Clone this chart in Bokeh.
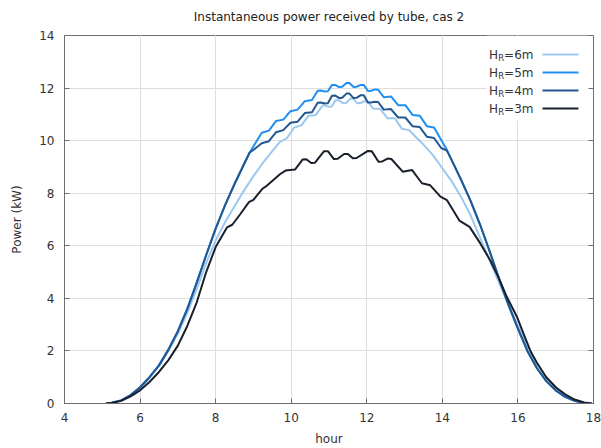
from bokeh.plotting import figure
from bokeh.models import Range1d, LinearAxis, FixedTicker
from bokeh.embed import file_html
from bokeh.resources import INLINE
from bokeh.core.properties import value

FONT = "DejaVu Sans"

title_text = "Instantaneous power received by tube, cas 2"
x_label = "hour"
y_label = "Power (kW)"
x_ticks = [4, 6, 8, 10, 12, 14, 16, 18]
y_ticks = [0, 2, 4, 6, 8, 10, 12, 14]

# HR = 6 m
hours_6m = [5.1, 5.25, 5.5, 5.75, 6.0, 6.25, 6.5, 6.75, 7.0, 7.25, 7.5, 7.75, 8.0, 8.25, 8.5,
            8.75, 9.0, 9.25, 9.5, 9.70, 9.89, 10.08, 10.27, 10.46, 10.65, 10.84,
            10.99, 11.07, 11.18, 11.26, 11.37, 11.45, 11.56, 11.64, 11.75, 11.83, 11.94, 12.02,
            12.17, 12.36, 12.55, 12.74, 12.93, 13.12, 13.31, 13.5, 13.75, 14.0, 14.25, 14.5,
            14.75, 15.0, 15.25, 15.5, 15.75, 16.0, 16.25, 16.5, 16.75, 17.0, 17.25, 17.5,
            17.75, 17.95]
power_6m = [0.0, 0.03, 0.1, 0.3, 0.58, 0.98, 1.42, 2.0, 2.65, 3.45, 4.35, 5.35, 6.2, 6.9, 7.5,
            8.1, 8.65, 9.15, 9.6, 9.95, 10.1, 10.5, 10.58, 10.95, 10.98, 11.35,
            11.29, 11.3, 11.54, 11.54, 11.42, 11.43, 11.59, 11.59, 11.42, 11.43, 11.5, 11.49,
            11.22, 11.2, 10.85, 10.85, 10.45, 10.4, 10.12, 9.85, 9.45, 8.95, 8.45, 7.85,
            7.15, 6.3, 5.45, 4.6, 3.75, 2.95, 2.2, 1.55, 1.0, 0.6, 0.3, 0.12,
            0.03, 0.0]

# HR = 5 m
hours_5m = [5.1, 5.25, 5.5, 5.75, 6.0, 6.25, 6.5, 6.75, 7.0, 7.25, 7.5, 7.75, 8.0, 8.25, 8.5,
            8.75, 8.9,
            9.03, 9.22, 9.41, 9.60, 9.79, 9.98, 10.17, 10.36, 10.55,
            10.70, 10.78, 10.89, 10.97, 11.08, 11.16, 11.27, 11.35, 11.46, 11.54, 11.65, 11.73,
            11.84, 11.92, 12.03, 12.11, 12.22, 12.30,
            12.45, 12.64, 12.83, 13.02, 13.21, 13.40, 13.59, 13.78, 13.97, 14.12,
            14.25, 14.5, 14.75, 15.0, 15.25, 15.5, 15.75, 16.0, 16.25, 16.5, 16.75, 17.0,
            17.25, 17.5, 17.75, 17.95]
power_5m = [0.0, 0.03, 0.12, 0.32, 0.62, 1.0, 1.45, 2.05, 2.75, 3.6, 4.6, 5.65, 6.65, 7.55, 8.35,
            9.1, 9.55,
            9.85, 10.3, 10.38, 10.75, 10.8, 11.12, 11.18, 11.5, 11.55,
            11.9, 11.91, 11.87, 11.88, 12.12, 12.12, 12.04, 12.05, 12.19, 12.19, 12.04, 12.05,
            12.12, 12.12, 11.89, 11.9, 11.95, 11.94,
            11.65, 11.68, 11.35, 11.35, 10.98, 10.95, 10.55, 10.5, 10.02, 9.65,
            9.25, 8.5, 7.7, 6.8, 5.8, 4.75, 3.75, 2.85, 2.0, 1.35, 0.85, 0.5,
            0.25, 0.1, 0.02, 0.0]

# HR = 4 m
hours_4m = [5.1, 5.25, 5.5, 5.75, 6.0, 6.25, 6.5, 6.75, 7.0, 7.25, 7.5, 7.75, 8.0, 8.25, 8.5,
            8.75, 8.9,
            9.03, 9.22, 9.41, 9.60, 9.79, 9.98, 10.17, 10.36, 10.55,
            10.70, 10.78, 10.89, 10.97, 11.08, 11.16, 11.27, 11.35, 11.46, 11.54, 11.65, 11.73,
            11.84, 11.92, 12.03, 12.11, 12.22, 12.30,
            12.45, 12.64, 12.83, 13.02, 13.21, 13.40, 13.59, 13.78, 13.97, 14.12,
            14.25, 14.5, 14.75, 15.0, 15.25, 15.5, 15.75, 16.0, 16.25, 16.5, 16.75, 17.0,
            17.25, 17.5, 17.75, 17.95]
power_4m = [0.0, 0.03, 0.12, 0.32, 0.62, 1.0, 1.45, 2.05, 2.75, 3.6, 4.6, 5.65, 6.65, 7.55, 8.35,
            9.1, 9.55,
            9.68, 9.9, 9.98, 10.32, 10.4, 10.68, 10.72, 11.05, 11.08,
            11.44, 11.45, 11.41, 11.42, 11.71, 11.72, 11.62, 11.63, 11.79, 11.79, 11.62, 11.63,
            11.73, 11.73, 11.45, 11.45, 11.48, 11.47,
            11.18, 11.2, 10.88, 10.88, 10.55, 10.52, 10.15, 10.1, 9.72, 9.62,
            9.25, 8.5, 7.7, 6.8, 5.8, 4.75, 3.75, 2.85, 2.0, 1.35, 0.85, 0.5,
            0.25, 0.1, 0.02, 0.0]

# HR = 3 m
hours_3m = [5.1, 5.25, 5.5, 5.75, 6.0, 6.25, 6.5, 6.75, 7.0, 7.25, 7.5, 7.75, 8.0, 8.3, 8.44,
            8.65, 8.88, 9.0, 9.23, 9.36, 9.71, 9.85, 10.1,
            10.3, 10.4, 10.53, 10.63, 10.87, 10.97, 11.13, 11.23, 11.4, 11.5, 11.63, 11.73,
            12.03, 12.13, 12.31, 12.41, 12.55, 12.65,
            12.95, 13.2, 13.46, 13.68, 13.95, 14.12, 14.45, 14.72, 15.0, 15.27, 15.5, 15.71,
            15.98, 16.15, 16.33, 16.5, 16.75, 17.0, 17.25, 17.5, 17.75, 17.95]
power_3m = [0.0, 0.02, 0.1, 0.27, 0.5, 0.82, 1.2, 1.65, 2.2, 2.95, 3.85, 5.0, 5.95, 6.7, 6.8,
            7.2, 7.66, 7.75, 8.16, 8.29, 8.73, 8.86, 8.9,
            9.28, 9.29, 9.15, 9.16, 9.6, 9.6, 9.3, 9.31, 9.49, 9.49, 9.33, 9.34,
            9.61, 9.6, 9.2, 9.21, 9.32, 9.3,
            8.82, 8.88, 8.38, 8.3, 7.87, 7.74, 6.96, 6.72, 6.1, 5.44, 4.75, 4.04,
            3.28, 2.65, 2.0, 1.55, 1.0, 0.62, 0.35, 0.15, 0.04, 0.0]

series_names = ["6m", "5m", "4m", "3m"]
series_hours = [hours_6m, hours_5m, hours_4m, hours_3m]
series_power = [power_6m, power_5m, power_4m, power_3m]
series_colors = ["#9cc8ef", "#1f8ff2", "#22578f", "#1a202b"]

X0, X1 = 4, 18
Y0, Y1 = 0, 14
FL, FR, FT, FB = 64, 593, 35, 403  # frame edges in pixels

p = figure(width=601, height=448, output_backend="svg", toolbar_location=None,
           x_range=Range1d(X0, X1), y_range=Range1d(Y0, Y1),
           min_border_left=FL, min_border_right=601 - FR,
           min_border_top=FT, min_border_bottom=448 - FB,
           title=title_text)
p.background_fill_color = "white"
p.border_fill_color = "white"
p.outline_line_color = "#6e6e6e"
p.outline_line_width = 1

p.title.text_font = FONT
p.title.text_font_size = "12px"
p.title.text_font_style = "normal"
p.title.text_color = "#222222"
p.title.align = "center"
p.title.vertical_align = "top"
p.title.standoff = 0

p.xaxis.ticker = FixedTicker(ticks=x_ticks, minor_ticks=[])
p.yaxis.ticker = FixedTicker(ticks=y_ticks, minor_ticks=[])
p.xaxis.axis_label = x_label
p.yaxis.axis_label = y_label

for ax in (p.xaxis[0], p.yaxis[0]):
    ax.axis_line_color = "#6e6e6e"
    ax.major_tick_line_color = "#6e6e6e"
    ax.major_tick_in = 5
    ax.major_tick_out = 0
    ax.minor_tick_in = 0
    ax.minor_tick_out = 0
    ax.major_label_text_font = FONT
    ax.major_label_text_font_size = "12px"
    ax.major_label_text_color = "#333333"
    ax.axis_label_text_font = FONT
    ax.axis_label_text_font_size = "12px"
    ax.axis_label_text_font_style = "normal"
    ax.axis_label_text_color = "#333333"

p.xaxis.major_label_standoff = 9
p.xaxis.axis_label_standoff = 7
p.yaxis.major_label_standoff = 10
p.yaxis.axis_label_standoff = 12

# mirrored inward ticks on the right border
right_ax = LinearAxis(ticker=FixedTicker(ticks=y_ticks, minor_ticks=[]))
right_ax.axis_line_color = "#6e6e6e"
right_ax.major_tick_line_color = "#6e6e6e"
right_ax.major_tick_in = 5
right_ax.major_tick_out = 0
right_ax.minor_tick_in = 0
right_ax.minor_tick_out = 0
right_ax.major_label_text_color = None
right_ax.major_label_text_font_size = "1px"
right_ax.major_label_standoff = 0
p.add_layout(right_ax, "right")

# spacer axis above the frame (white outward ticks) that lifts the title
top_ax = LinearAxis(ticker=FixedTicker(ticks=x_ticks, minor_ticks=[]))
top_ax.axis_line_color = None
top_ax.major_tick_line_color = "white"
top_ax.major_tick_in = 0
top_ax.major_tick_out = 10
top_ax.minor_tick_in = 0
top_ax.minor_tick_out = 0
top_ax.major_label_text_color = None
top_ax.major_label_text_font_size = "1px"
top_ax.major_label_standoff = 0
p.add_layout(top_ax, "above")

p.grid.grid_line_color = "#dedede"
p.grid.grid_line_width = 1

for h, pw, c in zip(series_hours, series_power, series_colors):
    p.line(h, pw, line_color=c, line_width=2, line_join="round")


def px_x(px):
    return X0 + (px - FL) / (FR - FL) * (X1 - X0)


def px_y(py):
    return Y0 + (FB - py) / (FB - FT) * (Y1 - Y0)


# legend (key box with white background)
p.quad(left=[px_x(486)], right=[X1], top=[Y1], bottom=[px_y(120)],
       fill_color="white", line_color=None)
rows = [54, 72, 90, 108]
for name, c, row in zip(series_names, series_colors, rows):
    p.line([px_x(542), px_x(578)], [px_y(row), px_y(row)], line_color=c, line_width=2)
    p.text(x=[px_x(533)], y=[px_y(row)], text=["=" + name], text_align="right",
           text_baseline="middle", text_font=value(FONT), text_font_size="12px",
           text_color="#333333")
    p.text(x=[px_x(503.6)], y=[px_y(row + 3)], text=["R"], text_align="right",
           text_baseline="middle", text_font=value(FONT), text_font_size="8.5px",
           text_color="#333333")
    p.text(x=[px_x(497.5)], y=[px_y(row)], text=["H"], text_align="right",
           text_baseline="middle", text_font=value(FONT), text_font_size="12px",
           text_color="#333333")

open("out.html", "w").write(file_html(p, INLINE))
